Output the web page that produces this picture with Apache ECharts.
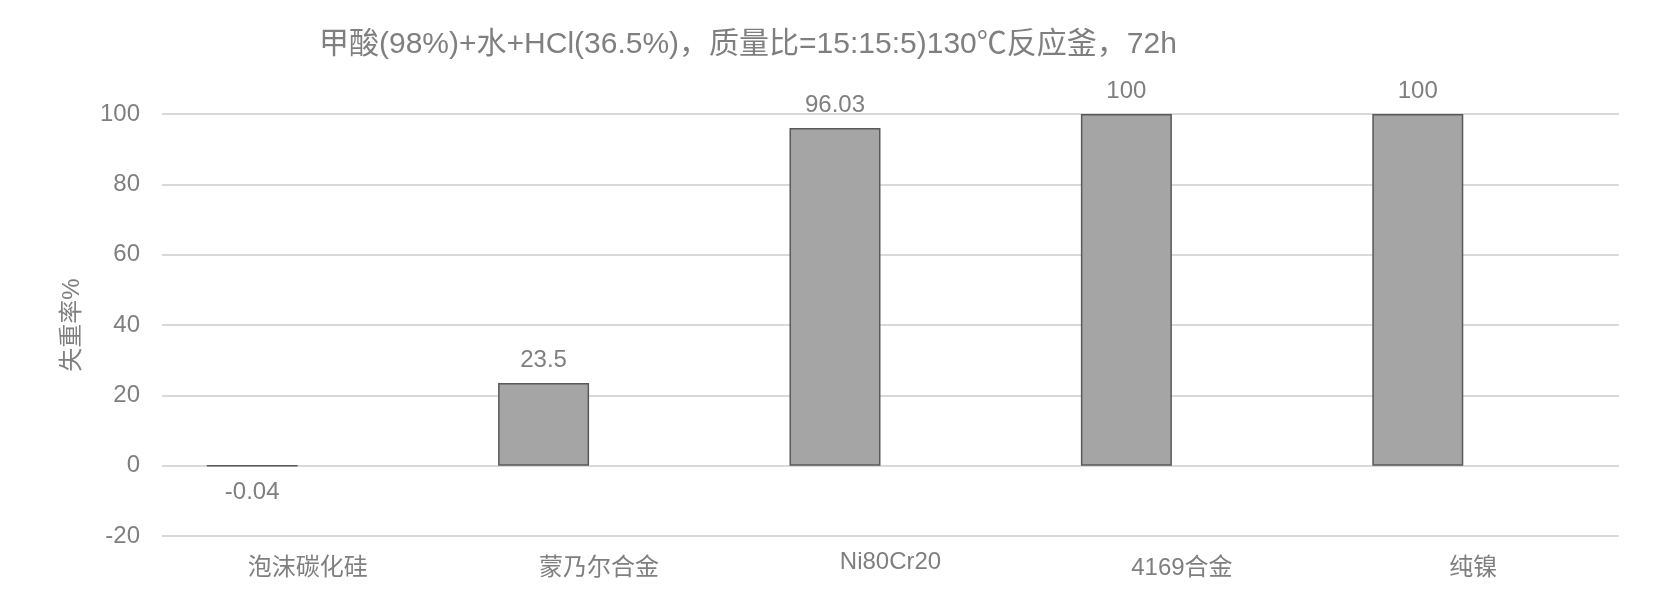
<!DOCTYPE html>
<html>
<head>
<meta charset="utf-8">
<script src="https://cdn.jsdelivr.net/npm/echarts@6/dist/echarts.min.js"></script>
<style>html,body{margin:0;padding:0;background:#fff}#c{width:1654px;height:590px}</style>
</head>
<body>
<div id="c"></div>
<script>
const titleText = '甲酸(98%)+水+HCl(36.5%)，质量比=15:15:5)130℃反应釜，72h';
const yAxisName = '失重率%';
const categories = ['泡沫碳化硅', '蒙乃尔合金', 'Ni80Cr20', '4169合金', '纯镍'];
const lossRate = [-0.04, 23.5, 96.03, 100, 100];
const emptySeries = [null, null, null, null, null];
const yMin = -20, yMax = 100, yInterval = 20;

const FONT = '"Liberation Sans", Arial, "Noto Sans CJK SC", sans-serif';
const TXT = '#7f7f7f';
const labelFont = {color: TXT, fontSize: 24, fontFamily: FONT};

const chart = echarts.init(document.getElementById('c'), null, {renderer: 'canvas'});
chart.setOption({
  animation: false,
  backgroundColor: '#fff',
  textStyle: {fontFamily: FONT},
  title: {
    text: titleText,
    left: 314, top: 25,
    textStyle: {fontFamily: FONT, fontSize: 30, fontWeight: 'normal', color: TXT}
  },
  grid: {left: 162, right: 35, top: 114, bottom: 54, containLabel: false},
  xAxis: {
    type: 'category',
    data: categories,
    axisLine: {show: false},
    axisTick: {show: false},
    axisLabel: {
      color: TXT, fontSize: 24, fontFamily: FONT, margin: 14,
      formatter: v => /[\u4e00-\u9fff]/.test(v) ? '{cjk|' + v + '}' : '{lat|' + v + '}',
      rich: {
        cjk: Object.assign({padding: [6, 0, 0, 0]}, labelFont),
        lat: Object.assign({padding: [0, 0, 6, 0]}, labelFont)
      }
    }
  },
  yAxis: {
    type: 'value',
    min: yMin, max: yMax, interval: yInterval,
    name: yAxisName,
    nameLocation: 'middle',
    nameGap: 78,
    nameRotate: 90,
    nameTextStyle: {color: TXT, fontSize: 24, fontFamily: FONT},
    axisLine: {show: false},
    axisTick: {show: false},
    axisLabel: {color: TXT, fontSize: 24, fontFamily: FONT, margin: 22},
    splitLine: {lineStyle: {color: '#d9d9d9', width: 2}}
  },
  series: [
    {
      type: 'bar',
      barWidth: 91,
      barGap: '22%',
      data: lossRate.map(v => v < 0
        ? {value: v, label: {position: 'bottom', distance: 14}}
        : v),
      itemStyle: {color: '#a5a5a5', borderColor: '#595959', borderWidth: 1.5},
      label: {show: true, position: 'top', distance: 11, color: TXT, fontSize: 24, fontFamily: FONT}
    },
    {
      type: 'bar',
      barWidth: 91,
      data: emptySeries,
      itemStyle: {color: '#a5a5a5'}
    }
  ]
});
</script>
</body>
</html>
